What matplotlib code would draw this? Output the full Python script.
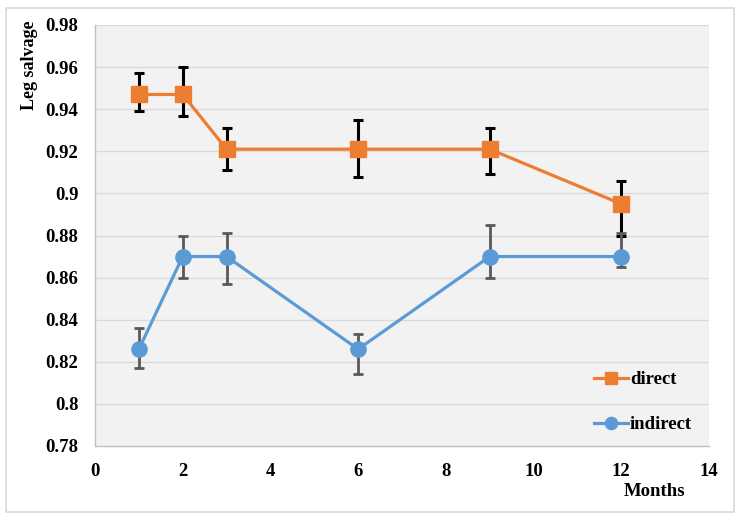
import numpy as np
import matplotlib
matplotlib.use("Agg")
import matplotlib.pyplot as plt
from matplotlib.patches import Rectangle

# --- data ---
months = [1, 2, 3, 6, 9, 12]
direct = [0.947, 0.947, 0.921, 0.921, 0.921, 0.895]
direct_hi = [0.957, 0.960, 0.931, 0.935, 0.931, 0.906]
direct_lo = [0.939, 0.937, 0.911, 0.908, 0.909, 0.880]
indirect = [0.826, 0.870, 0.870, 0.826, 0.870, 0.870]
indirect_hi = [0.836, 0.880, 0.881, 0.833, 0.885, 0.881]
indirect_lo = [0.817, 0.860, 0.857, 0.814, 0.860, 0.865]
yticks = [0.78, 0.80, 0.82, 0.84, 0.86, 0.88, 0.90, 0.92, 0.94, 0.96, 0.98]
ytick_labels = ["0.78", "0.8", "0.82", "0.84", "0.86", "0.88", "0.9",
                "0.92", "0.94", "0.96", "0.98"]
xticks = [0, 2, 4, 6, 8, 10, 12, 14]

ORANGE = "#ed7d31"
BLUE = "#5b9bd5"

plt.rcParams["font.family"] = ["Liberation Serif", "DejaVu Serif"]
plt.rcParams["font.weight"] = "bold"

fig = plt.figure(figsize=(7.41, 5.20), dpi=100)
ax = fig.add_axes([95 / 741, 74 / 520, 614 / 741, 421 / 520])
ax.set_facecolor("#f2f2f2")

# outer chart border
fig.patches.append(Rectangle((6 / 741, 8 / 520), 728 / 741, 504 / 520,
                             transform=fig.transFigure, fill=False,
                             edgecolor="#d9d9d9", linewidth=1.2))

for y in yticks[1:]:
    ax.axhline(y, color="#d9d9d9", linewidth=1.0, zorder=0)

d = np.array(direct)
ind = np.array(indirect)
d_err = [d - np.array(direct_lo), np.array(direct_hi) - d]
i_err = [ind - np.array(indirect_lo), np.array(indirect_hi) - ind]

ax.errorbar(months, direct, yerr=d_err, fmt="none", ecolor="black",
            elinewidth=2.2, capsize=3.5, capthick=2.2, zorder=2)
ax.errorbar(months, indirect, yerr=i_err, fmt="none", ecolor="#595959",
            elinewidth=2.0, capsize=3.5, capthick=2.0, zorder=2)

ax.plot(months, direct, color=ORANGE, linewidth=2.3, marker="s",
        markersize=11, label="direct", zorder=3)
ax.plot(months, indirect, color=BLUE, linewidth=2.3, marker="o",
        markersize=11, label="indirect", zorder=3)

ax.set_xlim(0, 14)
ax.set_ylim(0.78, 0.98)
ax.set_xticks(xticks)
ax.set_yticks(yticks)
ax.set_yticklabels(ytick_labels)
ax.tick_params(axis="both", length=0, labelsize=13.5)
ax.tick_params(axis="x", pad=12)
ax.tick_params(axis="y", pad=12)

for side in ("top", "right"):
    ax.spines[side].set_visible(False)
for side in ("left", "bottom"):
    ax.spines[side].set_color("#bfbfbf")
    ax.spines[side].set_linewidth(1.0)

leg = ax.legend(loc="lower right", bbox_to_anchor=(1.0, -0.01), frameon=False,
                fontsize=13.5, handlelength=1.8, handletextpad=0.1,
                labelspacing=1.5, markerscale=0.8)

fig.text(30 / 741, 1 - 20 / 520, "Leg salvage", rotation=90, ha="center",
         va="top", fontsize=13, fontweight="bold")
fig.text(655 / 741, 1 - 492 / 520, "Months", ha="center", va="center",
         fontsize=13.5, fontweight="bold")

fig.savefig("out.png", dpi=100)
